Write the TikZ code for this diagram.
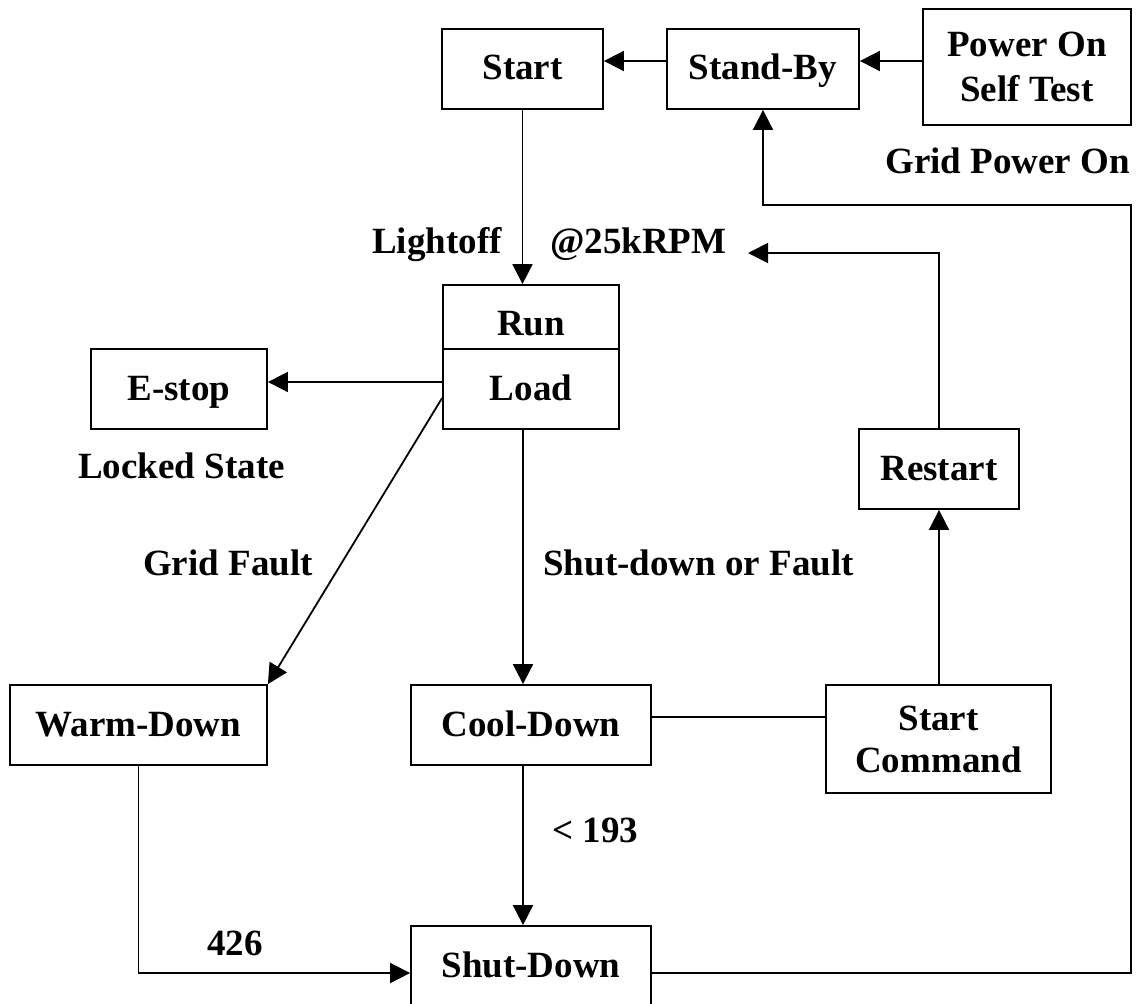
\documentclass[tikz,border=0pt]{standalone}
\usepackage{fontspec}
\setmainfont{Liberation Serif}
\usetikzlibrary{arrows.meta,calc}
\begin{document}
\begin{tikzpicture}[x=1pt,y=-1pt,
  box/.style={draw, line width=1.8pt, inner sep=0pt, align=center, font=\fontsize{37}{44}\selectfont\bfseries},
  one/.style={text height=30pt, text depth=8pt},
  lbl/.style={inner sep=0pt, font=\fontsize{37}{44}\selectfont\bfseries},
  conn/.style={line width=1.8pt},
  arr/.style={conn, -{Triangle[length=20pt,width=20pt]}}]
\useasboundingbox (0,0) rectangle (1147,1003);
% boxes
\node[box, one, minimum width=161pt, minimum height=80pt] (start) at (522.5,69) {Start};
\node[box, one, minimum width=192pt, minimum height=80pt] (standby) at (763,69) {Stand-By};
\node[box, font=\fontsize{37}{45}\selectfont\bfseries, minimum width=208pt, minimum height=116pt] (post) at (1027,67) {Power On\\Self Test};
\node[box, minimum width=176pt, minimum height=64pt, text height=37pt, text depth=1pt] (run) at (531,317) {Run};
\node[box, one, minimum width=176pt, minimum height=80pt] (load) at (531,389) {Load};
\node[box, one, minimum width=176pt, minimum height=80pt] (estop) at (179,389) {E-stop};
\node[box, one, minimum width=160pt, minimum height=80pt] (restart) at (939,469) {Restart};
\node[box, one, minimum width=257pt, minimum height=80pt] (warm) at (138.5,725) {Warm-Down};
\node[box, one, minimum width=240pt, minimum height=80pt] (cool) at (531,725) {Cool-Down};
\node[box, font=\fontsize{37}{42}\selectfont\bfseries, minimum width=225pt, minimum height=108pt] (cmd) at (938.5,739) {Start\\Command};
\node[box, one, minimum width=240pt, minimum height=80pt] (shut) at (531,966) {Shut-Down};
% free ends
\coordinate (rpmtip) at (748,253);
\coordinate (loopR) at (1131,205);
% connectors
\draw[arr] ([yshift=8pt]standby.west) -- ([yshift=8pt]start.east);
\draw[arr] ([yshift=6pt]post.west) -- ([yshift=6pt]post.west -| standby.east);
\draw[arr] (start.south) -- (start.south |- run.north);
\draw[arr] ([yshift=7pt]load.west) -- ([yshift=7pt]estop.east);
\draw[arr] ([yshift=-9pt]load.west) -- (warm.north east);
\draw[arr] ([xshift=-8pt]load.south) -- ([xshift=-8pt]cool.north);
\draw[arr] ([xshift=-8pt]cool.south) -- ([xshift=-8pt]shut.north);
\draw[conn] ([yshift=8pt]cool.east) -- ([yshift=8pt]cool.east -| cmd.west);
\draw[arr] (restart.south |- cmd.north) -- (restart.south);
\draw[arr] (restart.north) |- (rpmtip);
\draw[arr] (warm.south) |- ([yshift=-7pt]shut.west);
\draw[arr] ([yshift=-7pt]shut.east) -| (loopR) -| (standby.south);
% labels
\node[lbl, anchor=base east] (lightoff) at (502,253) {Lightoff};
\node[lbl, anchor=base west] (rpm) at (550,253) {@25kRPM};
\node[lbl, anchor=base west] (gridon) at (885,173) {Grid Power On};
\node[lbl, anchor=base west] (locked) at (78,478) {Locked State};
\node[lbl, anchor=base west] (gridfault) at (143,575) {Grid Fault};
\node[lbl, anchor=base east] (sdfault) at (854,575) {Shut-down or Fault};
\node[lbl, anchor=base west] (lt193) at (552,842) {< 193};
\node[lbl, anchor=base west] (n426) at (207,955) {426};
\end{tikzpicture}
\end{document}
